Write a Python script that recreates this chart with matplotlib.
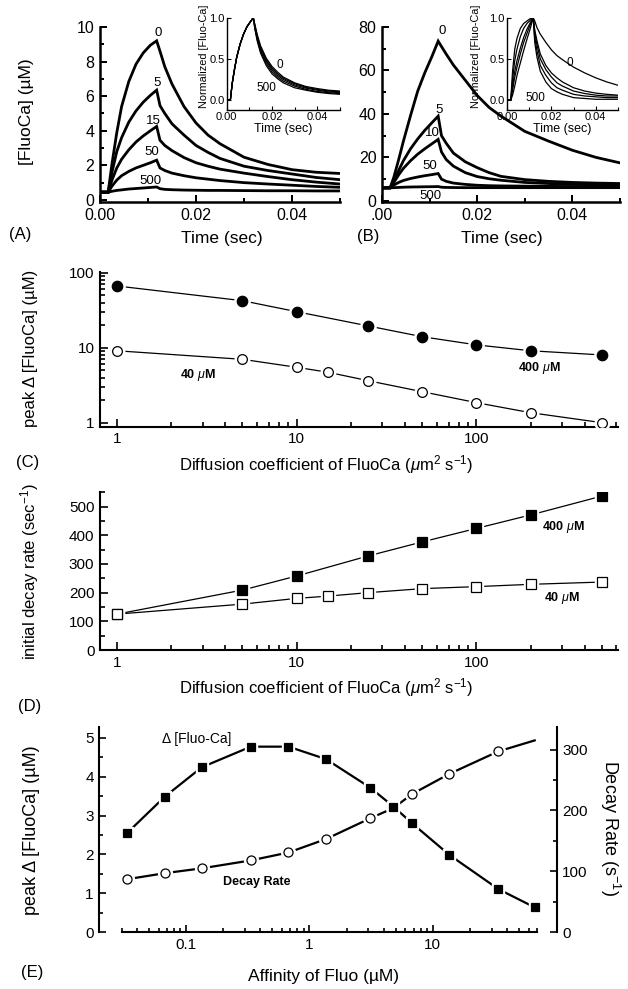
import matplotlib
matplotlib.use("Agg")
import matplotlib.pyplot as plt
from matplotlib.ticker import FixedLocator, NullFormatter, FixedFormatter

plt.rcParams['font.family'] = ['Liberation Sans', 'DejaVu Sans']
plt.rcParams['mathtext.fontset'] = 'custom'
plt.rcParams['mathtext.rm'] = 'Liberation Sans'
plt.rcParams['mathtext.it'] = 'Liberation Sans:italic'
plt.rcParams['mathtext.bf'] = 'Liberation Sans:bold'

# ---------------- data ----------------
time_s = [0.0, 0.0017, 0.0025, 0.0035, 0.0045, 0.006, 0.0075, 0.009, 0.0105, 0.0118,
          0.0125, 0.0135, 0.015, 0.0175, 0.02, 0.0225, 0.025, 0.03, 0.035, 0.04, 0.045, 0.05]

# Panel A: [FluoCa] (uM) for diffusion coefficients 0,5,15,50,500
a_names = ["0", "5", "15", "50", "500"]
a_d0 = [0.45, 0.45, 2.1, 3.9, 5.4, 6.85, 7.85, 8.5, 8.95, 9.2, 8.6, 7.7, 6.7, 5.4, 4.45, 3.75, 3.25, 2.47, 2.05, 1.75, 1.6, 1.53]
a_d5 = [0.45, 0.45, 1.6, 2.8, 3.6, 4.5, 5.15, 5.65, 6.05, 6.35, 5.45, 5.0, 4.4, 3.75, 3.15, 2.75, 2.4, 1.95, 1.7, 1.5, 1.3, 1.17]
a_d15 = [0.45, 0.45, 1.15, 1.85, 2.35, 2.9, 3.35, 3.7, 4.0, 4.25, 3.45, 3.15, 2.85, 2.45, 2.15, 1.95, 1.78, 1.55, 1.35, 1.17, 1.03, 0.92]
a_d50 = [0.45, 0.45, 0.8, 1.15, 1.4, 1.65, 1.85, 2.0, 2.15, 2.3, 1.85, 1.7, 1.55, 1.4, 1.28, 1.2, 1.12, 1.0, 0.92, 0.85, 0.78, 0.73]
a_d500 = [0.45, 0.45, 0.5, 0.55, 0.58, 0.63, 0.66, 0.69, 0.72, 0.75, 0.65, 0.61, 0.59, 0.57, 0.56, 0.55, 0.55, 0.54, 0.53, 0.53, 0.52, 0.52]
a_label_t = [0.0122, 0.0119, 0.0112, 0.0108, 0.0105]
a_label_v = [9.65, 6.75, 4.55, 2.8, 1.1]

# Inset A: normalized
ia_d0 = [0, 0, 0.2, 0.37, 0.52, 0.68, 0.8, 0.89, 0.95, 1.0, 0.92, 0.8, 0.66, 0.51, 0.41, 0.34, 0.28, 0.21, 0.165, 0.14, 0.12, 0.11]
ia_d5 = [0, 0, 0.2, 0.37, 0.52, 0.68, 0.8, 0.89, 0.95, 1.0, 0.905, 0.78, 0.64, 0.49, 0.39, 0.32, 0.265, 0.2, 0.155, 0.13, 0.11, 0.1]
ia_d15 = [0, 0, 0.2, 0.37, 0.52, 0.68, 0.8, 0.89, 0.95, 1.0, 0.89, 0.76, 0.62, 0.47, 0.37, 0.3, 0.25, 0.185, 0.145, 0.12, 0.1, 0.09]
ia_d50 = [0, 0, 0.2, 0.37, 0.52, 0.68, 0.8, 0.89, 0.95, 1.0, 0.875, 0.74, 0.595, 0.445, 0.345, 0.28, 0.23, 0.17, 0.13, 0.105, 0.09, 0.08]
ia_d500 = [0, 0, 0.2, 0.37, 0.52, 0.68, 0.8, 0.89, 0.95, 1.0, 0.86, 0.72, 0.57, 0.42, 0.32, 0.26, 0.21, 0.15, 0.12, 0.095, 0.08, 0.07]

# Panel B
b_names = ["0", "5", "10", "50", "500"]
b_d0 = [6, 6, 11, 19, 27.5, 39.3, 50.5, 59, 66.5, 73.5, 71, 67.5, 62.5, 55.5, 48.5, 43, 39, 32, 27.5, 23.3, 20, 17.5]
b_d5 = [6, 6, 9, 14, 18.5, 24, 28.5, 32.5, 36, 39, 30, 26.5, 22, 18, 15.3, 13, 11.3, 9.8, 9.0, 8.5, 8.2, 8.0]
b_d10 = [6, 6, 8.5, 12, 15, 18.5, 21.5, 24, 26.3, 28.3, 22.5, 19, 16, 13, 11.2, 10.2, 9.5, 8.5, 8.0, 7.6, 7.4, 7.3]
b_d50 = [6, 6, 7.3, 8.5, 9.4, 10.3, 11.0, 11.6, 12.1, 12.6, 10, 9, 8.2, 7.6, 7.2, 7.0, 6.9, 6.8, 6.7, 6.6, 6.6, 6.5]
b_d500 = [6, 6, 6.1, 6.2, 6.3, 6.4, 6.45, 6.5, 6.55, 6.6, 6.3, 6.2, 6.15, 6.1, 6.1, 6.1, 6.1, 6.1, 6.1, 6.1, 6.1, 6.1]
b_label_t = [0.0126, 0.0119, 0.0105, 0.0101, 0.0101]
b_label_v = [78, 42, 31.3, 16, 2.3]

# Inset B: normalized
ib_d0 = [0, 0, 0.06, 0.17, 0.3, 0.45, 0.6, 0.74, 0.87, 1.0, 0.96, 0.88, 0.8, 0.7, 0.61, 0.54, 0.49, 0.4, 0.33, 0.27, 0.22, 0.18]
ib_d5 = [0, 0, 0.12, 0.28, 0.4, 0.56, 0.7, 0.81, 0.92, 1.0, 0.85, 0.72, 0.56, 0.42, 0.33, 0.27, 0.22, 0.15, 0.11, 0.085, 0.07, 0.06]
ib_d10 = [0, 0, 0.17, 0.35, 0.48, 0.63, 0.76, 0.86, 0.94, 1.0, 0.82, 0.67, 0.5, 0.37, 0.28, 0.21, 0.17, 0.11, 0.08, 0.06, 0.05, 0.05]
ib_d50 = [0, 0, 0.25, 0.48, 0.62, 0.77, 0.87, 0.93, 0.97, 1.0, 0.76, 0.6, 0.42, 0.3, 0.21, 0.15, 0.12, 0.07, 0.05, 0.04, 0.03, 0.03]
ib_d500 = [0, 0, 0.35, 0.62, 0.75, 0.87, 0.93, 0.96, 0.99, 1.0, 0.7, 0.52, 0.35, 0.22, 0.14, 0.1, 0.07, 0.03, 0.02, 0.01, 0.01, 0.01]

# Panel C: peak delta [FluoCa] vs diffusion coefficient
c_D_400 = [1, 5, 10, 25, 50, 100, 200, 500]
c_peak_400 = [66.5, 42.3, 30.2, 19.5, 14.0, 10.9, 9.1, 8.0]
c_D_40 = [1, 5, 10, 15, 25, 50, 100, 200, 500]
c_peak_40 = [9.1, 7.0, 5.48, 4.7, 3.63, 2.59, 1.85, 1.36, 1.0]

# Panel D: initial decay rate vs diffusion coefficient
d_D_400 = [1, 5, 10, 25, 50, 100, 200, 500]
d_rate_400 = [125, 209, 258, 328, 377, 424, 471, 537]
d_D_40 = [1, 5, 10, 15, 25, 50, 100, 200, 500]
d_rate_40 = [125, 160, 180, 188, 200, 214, 221, 229, 237]

# Panel E: vs affinity of Fluo
e_kd = [0.033, 0.067, 0.134, 0.335, 0.676, 1.36, 3.1, 4.8, 6.8, 13.6, 34, 67]
e_peak = [2.54, 3.48, 4.24, 4.77, 4.77, 4.45, 3.72, 3.23, 2.80, 1.99, 1.11, 0.64]
e_rate = [87, 97, 105, 118, 131, 153, 187, 204, 227, 260, 297, 315]

# ---------------- figure ----------------
W, H = 628, 989
fig = plt.figure(figsize=(W / 100, H / 100), dpi=100)


def ax_px(l, t, r, b):
    return fig.add_axes([l / W, 1 - b / H, (r - l) / W, (b - t) / H])


def ftext(x, y, s, **kw):
    kw.setdefault('ha', 'center')
    kw.setdefault('va', 'center')
    fig.text(x / W, 1 - y / H, s, **kw)


def style(ax, size, lw=1.5, major=5, minor=3):
    ax.tick_params(which='both', direction='in', labelsize=size, width=lw * 0.8, pad=4)
    ax.tick_params(which='major', length=major)
    ax.tick_params(which='minor', length=minor)
    for s in ['top', 'right']:
        ax.spines[s].set_visible(False)
    for s in ['left', 'bottom']:
        ax.spines[s].set_linewidth(lw)


# ---- Panel A ----
axA = ax_px(100, 27, 340, 202)
for ys in [a_d0, a_d5, a_d15, a_d50, a_d500]:
    axA.plot(time_s, ys, color='k', lw=2.0, solid_joinstyle='miter')
for name, tx, vy in zip(a_names, a_label_t, a_label_v):
    axA.text(tx, vy, name, fontsize=9.5, ha='center', va='center')
axA.set_xlim(0, 0.05)
axA.set_ylim(-0.12, 10)
style(axA, 11.5, lw=1.8)
axA.xaxis.set_major_locator(FixedLocator([0, 0.02, 0.04]))
axA.xaxis.set_major_formatter(FixedFormatter(["0.00", "0.02", "0.04"]))
axA.xaxis.set_minor_locator(FixedLocator([0.01, 0.03, 0.05]))
axA.yaxis.set_major_locator(FixedLocator([0, 2, 4, 6, 8, 10]))
axA.yaxis.set_minor_locator(FixedLocator([1, 3, 5, 7, 9]))


def inset(l, r, curves, lab0, lab500, ylab_x):
    ax = ax_px(l, 17.7, r, 110)
    ax.patch.set_alpha(0)
    for ys in curves:
        ax.plot(time_s, ys, color='k', lw=0.9)
    ax.text(lab0[0], lab0[1], "0", fontsize=8.5, ha='center', va='center')
    ax.text(lab500[0], lab500[1], "500", fontsize=8.5, ha='center', va='center')
    ax.set_xlim(0, 0.05)
    ax.set_ylim(-0.12, 1.0)
    style(ax, 8, lw=1.0, major=3, minor=2)
    ax.tick_params(pad=1.5)
    ax.xaxis.set_major_locator(FixedLocator([0, 0.02, 0.04]))
    ax.xaxis.set_major_formatter(FixedFormatter(["0.00", "0.02", "0.04"]))
    ax.xaxis.set_minor_locator(FixedLocator([0.01, 0.03, 0.05]))
    ax.yaxis.set_major_locator(FixedLocator([0, 0.5, 1.0]))
    ax.yaxis.set_major_formatter(FixedFormatter(["0.0", "0.5", "1.0"]))
    ax.set_xlabel("Time (sec)", fontsize=9, labelpad=1)
    ftext(ylab_x, 108, "Normalized [Fluo-Ca]", rotation=90, va='bottom', fontsize=7.8)
    return ax


iA = inset(226.5, 340, [ia_d0, ia_d5, ia_d15, ia_d50, ia_d500],
           (0.0236, 0.42), (0.0177, 0.15), 204)

# ---- Panel B ----
axB = ax_px(382, 27, 620, 202)
for ys in [b_d0, b_d5, b_d10, b_d50, b_d500]:
    axB.plot(time_s, ys, color='k', lw=2.0, solid_joinstyle='miter')
for name, tx, vy in zip(b_names, b_label_t, b_label_v):
    axB.text(tx, vy, name, fontsize=9.5, ha='center', va='center')
axB.set_xlim(0, 0.05)
axB.set_ylim(-0.5, 80)
style(axB, 11.5, lw=1.8)
axB.xaxis.set_major_locator(FixedLocator([0, 0.02, 0.04]))
axB.xaxis.set_major_formatter(FixedFormatter([".00", "0.02", "0.04"]))
axB.xaxis.set_minor_locator(FixedLocator([0.01, 0.03, 0.05]))
axB.yaxis.set_major_locator(FixedLocator([0, 20, 40, 60, 80]))
axB.yaxis.set_minor_locator(FixedLocator([10, 30, 50, 70]))

iB = inset(507, 618, [ib_d0, ib_d5, ib_d10, ib_d50, ib_d500],
           (0.0284, 0.45), (0.0126, 0.03), 476)

ftext(27, 112, "[FluoCa] (µM)", rotation=90, fontsize=12.5)
ftext(222, 238, "Time (sec)", fontsize=12.5)
ftext(502, 238, "Time (sec)", fontsize=12.5)
ftext(20, 234, "(A)", fontsize=12)
ftext(368, 237, "(B)", fontsize=12)


def marker_series(ax, x, y, marker, filled, ms, lw):
    ax.plot(x, y, color='k', lw=lw, zorder=2)
    ax.plot(x, y, ls='none', marker=marker, ms=ms + 3.5, mfc='white', mec='white', zorder=3)
    ax.plot(x, y, ls='none', marker=marker, ms=ms, mfc='k' if filled else 'white',
            mec='k', mew=0.9, zorder=4)


log_minor = [2, 3, 4, 5, 6, 7, 8, 9, 20, 30, 40, 50, 60, 70, 80, 90, 200, 300, 400, 500, 600]

# ---- Panel C ----
axC = ax_px(100, 271.7, 618, 426.7)
axC.set_xscale('log')
axC.set_yscale('log')
marker_series(axC, c_D_400, c_peak_400, 'o', True, 7.5, 0.9)
marker_series(axC, c_D_40, c_peak_40, 'o', False, 7.0, 0.9)
axC.set_xlim(0.807, 612)
axC.set_ylim(0.885, 103)
style(axC, 11, lw=1.5, major=6, minor=3.5)
axC.xaxis.set_major_locator(FixedLocator([1, 10, 100]))
axC.xaxis.set_major_formatter(FixedFormatter(["1", "10", "100"]))
axC.xaxis.set_minor_locator(FixedLocator(log_minor))
axC.xaxis.set_minor_formatter(NullFormatter())
axC.yaxis.set_major_locator(FixedLocator([1, 10, 100]))
axC.yaxis.set_major_formatter(FixedFormatter(["1", "10", "100"]))
axC.yaxis.set_minor_locator(FixedLocator(log_minor))
axC.yaxis.set_minor_formatter(NullFormatter())
axC.text(2.83, 4.33, r"40 $\mu$M", fontsize=9, fontweight='bold', ha='center', va='center')
axC.text(225, 5.31, r"400 $\mu$M", fontsize=9, fontweight='bold', ha='center', va='center')

xlab_D = r"Diffusion coefficient of FluoCa ($\mu$m$^{2}$ s$^{-1}$)"
ftext(30, 348, "peak Δ [FluoCa] (µM)", rotation=90, fontsize=12)
ftext(326, 465, xlab_D, fontsize=12)
ftext(28, 463, "(C)", fontsize=12)

# ---- Panel D ----
axD = ax_px(100, 491.7, 618, 650)
axD.set_xscale('log')
marker_series(axD, d_D_400, d_rate_400, 's', True, 6.5, 0.9)
marker_series(axD, d_D_40, d_rate_40, 's', False, 6.5, 0.9)
axD.set_xlim(0.807, 612)
axD.set_ylim(0, 552)
style(axD, 11, lw=1.5, major=6, minor=3.5)
axD.xaxis.set_major_locator(FixedLocator([1, 10, 100]))
axD.xaxis.set_major_formatter(FixedFormatter(["1", "10", "100"]))
axD.xaxis.set_minor_locator(FixedLocator(log_minor))
axD.xaxis.set_minor_formatter(NullFormatter())
axD.yaxis.set_major_locator(FixedLocator([0, 100, 200, 300, 400, 500]))
axD.yaxis.set_minor_locator(FixedLocator([50, 150, 250, 350, 450, 550]))
axD.text(305, 428, r"400 $\mu$M", fontsize=9, fontweight='bold', ha='center', va='center')
axD.text(298, 180, r"40 $\mu$M", fontsize=9, fontweight='bold', ha='center', va='center')

ftext(30, 572, r"initial decay rate (sec$^{-1}$)", rotation=90, fontsize=12)
ftext(326, 688, xlab_D, fontsize=12)
ftext(30, 707, "(D)", fontsize=12)

# ---- Panel E ----
axE = ax_px(99.3, 727, 556.7, 932.3)
axE.set_xscale('log')
axE2 = axE.twinx()
marker_series(axE2, e_kd[:-1], e_rate[:-1], 'o', False, 6.5, 1.6)
axE2.plot(e_kd[-2:], e_rate[-2:], color='k', lw=1.6, zorder=2)
marker_series(axE, e_kd, e_peak, 's', True, 5.8, 1.6)
axE.set_zorder(axE2.get_zorder() + 1)
axE.patch.set_visible(False)
axE.set_xlim(0.0198, 101)
axE.set_ylim(0, 5.275)
axE2.set_ylim(0, 337)
style(axE, 11, lw=1.5, major=5, minor=3)
axE.spines['bottom'].set_bounds(0.03, 70)
axE2.tick_params(which='both', direction='in', labelsize=11, width=1.2, pad=4)
axE2.tick_params(which='major', length=5)
axE2.tick_params(which='minor', length=3)
axE2.spines['right'].set_linewidth(1.5)
for s in ['top', 'left', 'bottom']:
    axE2.spines[s].set_visible(False)
axE.spines['right'].set_visible(False)
e_minor = [0.03, 0.04, 0.05, 0.06, 0.07, 0.08, 0.09, 0.2, 0.3, 0.4, 0.5, 0.6, 0.7, 0.8, 0.9,
           2, 3, 4, 5, 6, 7, 8, 9, 20, 30, 40, 50, 60, 70]
axE.xaxis.set_major_locator(FixedLocator([0.1, 1, 10]))
axE.xaxis.set_major_formatter(FixedFormatter(["0.1", "1", "10"]))
axE.xaxis.set_minor_locator(FixedLocator(e_minor))
axE.xaxis.set_minor_formatter(NullFormatter())
axE.yaxis.set_major_locator(FixedLocator([0, 1, 2, 3, 4, 5]))
axE.yaxis.set_minor_locator(FixedLocator([0.5, 1.5, 2.5, 3.5, 4.5]))
axE2.yaxis.set_major_locator(FixedLocator([0, 100, 200, 300]))
axE2.yaxis.set_minor_locator(FixedLocator([50, 150, 250]))
axE.text(0.122, 4.97, "Δ [Fluo-Ca]", fontsize=10, ha='center', va='center')
axE.text(0.373, 1.3, "Decay Rate", fontsize=9, fontweight='bold', ha='center', va='center')

ftext(32, 830, "peak Δ [FluoCa] (µM)", rotation=90, fontsize=13)
ftext(610, 828, r"Decay Rate (s$^{-1}$)", rotation=270, fontsize=13)
ftext(324, 977, "Affinity of Fluo (µM)", fontsize=12.5)
ftext(32, 973, "(E)", fontsize=12)

fig.savefig("out.png", dpi=100)
